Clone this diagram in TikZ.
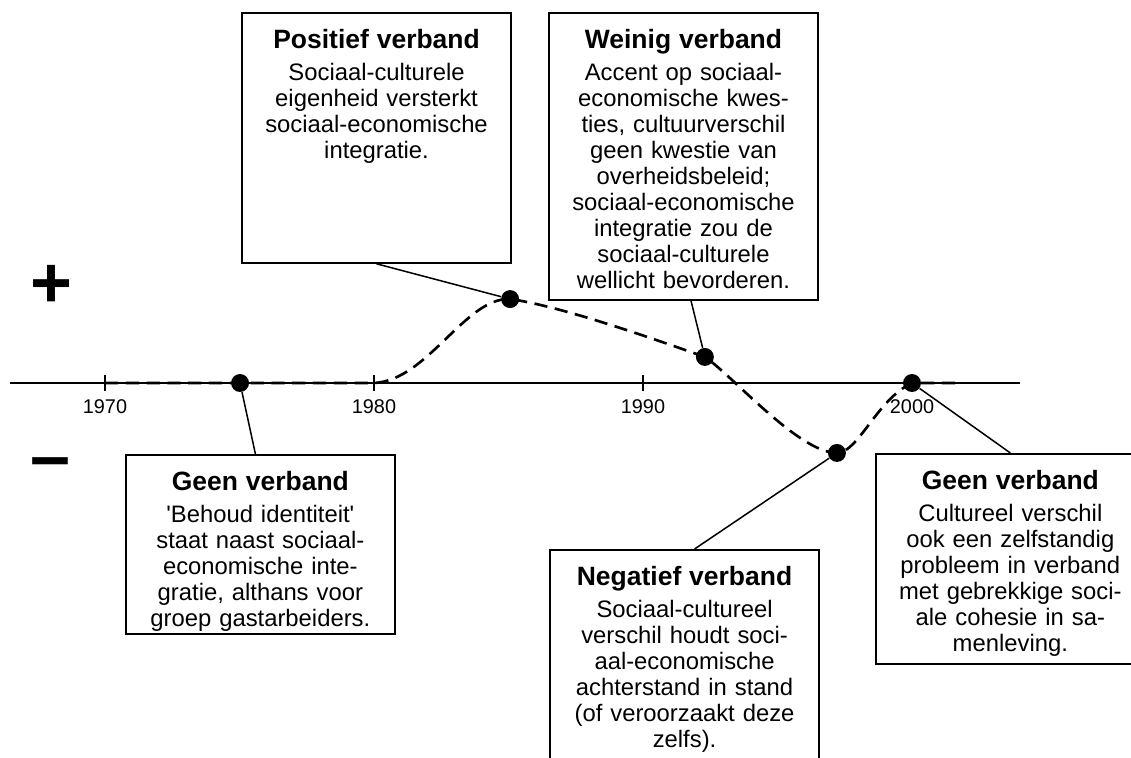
\documentclass[tikz,border=0pt]{standalone}
\usepackage{fontspec}
\setmainfont{Liberation Sans}

\newcommand{\kop}[1]{{\fontsize{14}{16}\selectfont\bfseries #1}\\[3.2pt]}

\begin{document}
\begin{tikzpicture}[x=0.5cm,y=0.5cm,
	kader/.style={draw,line width=1pt,anchor=north west,align=center,
		text width=134.26pt,inner xsep=4pt,inner ysep=8.8pt,
		font=\fontsize{12.6}{13.75}\selectfont},
	punt/.style={circle,fill,inner sep=0pt,minimum size=9.5pt},
	lijn/.style={line width=0.8pt}]
	\useasboundingbox (-3.903,-13.903) rectangle (38.141,14.238);
	\clip (-3.903,-13.903) rectangle (38.141,14.238);

	\draw[lijn] (-3.53,0)-- (34,0);
	\foreach \x/\jaar in {0/1970,10/1980,20/1990,30/2000}
		\draw[lijn] (\x,-0.3)-- (\x,0.3) (\x,-1.15) node[anchor=base,font=\fontsize{10.5}{12}\selectfont] (j\jaar) {\jaar};

	\node[anchor=base,font=\fontsize{38}{40}\selectfont\bfseries] (plus) at (-2,2.79) {+};
	\node[anchor=base,font=\fontsize{38}{40}\selectfont\bfseries] (min) at (-2.04,-3.61) {--};

\node[punt] (d1) at (5.02,0) {};
\node[punt] (d2) at (15.06,3.12) {};
\node[punt] (d3) at (22.30,0.97) {};
\node[punt] (d4) at (27.21,-2.60) {};
\node[punt] (d5) at (30,0) {};
\draw [line width=1.4pt,dash pattern=on 7pt off 4pt] (0,0) -- (10,0)
	.. controls (12,0.1) and (13.4,3.2) .. (d2.center)
	.. controls (17,2.85) and (20.5,1.6) .. (d3.center)
	.. controls (23.3,0.3) and (25.8,-2.6) .. (d4.center)
	.. controls (28,-2.6) and (28.7,-0.6) .. (d5.center) -- (31.6,0);

\node[kader,text depth=104.4pt] (pos) at (5.06,13.79) {\kop{Positief verband}Sociaal-culturele\\eigenheid versterkt\\sociaal-economische\\integratie.};
\node[kader,text depth=124pt] (wei) at (16.47,13.79) {\kop{Weinig verband}Accent op sociaal-\\economische kwes-\\ties, cultuurverschil\\geen kwestie van\\overheidsbeleid;\\sociaal-economische\\integratie zou de\\sociaal-culturele\\wellicht bevorderen.};
\node[kader,text depth=66.9pt] (gl) at (0.74,-2.64) {\kop{Geen verband}\textquotesingle Behoud identiteit\textquotesingle\\staat naast sociaal-\\economische inte-\\gratie, althans voor\\groep gastarbeiders.};
\node[kader,text depth=93.8pt] (neg) at (16.51,-6.17) {\kop{Negatief verband}Sociaal-cultureel\\verschil houdt soci-\\aal-economische\\achterstand in stand\\(of veroorzaakt deze\\zelfs).};
\node[kader,text depth=83.2pt] (gr) at (28.62,-2.60) {\kop{Geen verband}Cultureel verschil\\ook een zelfstandig\\probleem in verband\\met gebrekkige soci-\\ale cohesie in sa-\\menleving.};

\draw [lijn] (pos.south) -- (d2);
\draw [lijn] ([xshift=4pt]wei.south) -- (d3);
\draw [lijn] (d1) -- ([xshift=-2.6pt]gl.north);
\draw [lijn] (d4) -- ([xshift=5.3pt]neg.north);
\draw [lijn] (d5) -- (gr.north);
\end{tikzpicture}
\end{document}
